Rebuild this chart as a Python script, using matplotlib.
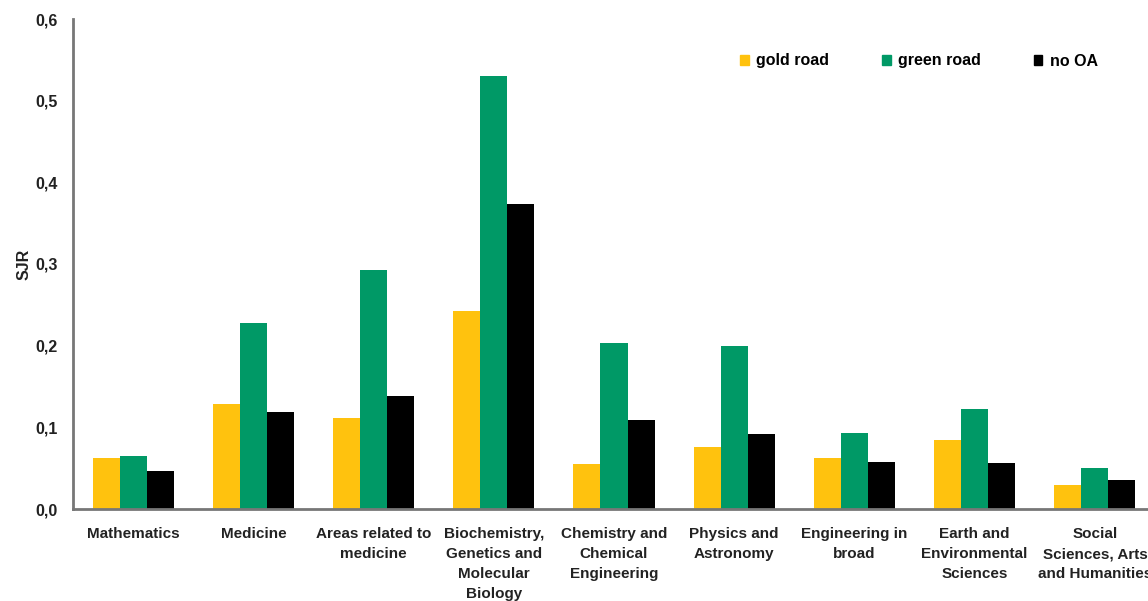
import matplotlib.pyplot as plt
import numpy as np
from matplotlib.patches import Patch

plt.rcParams['font.family'] = ['Liberation Sans', 'DejaVu Sans']

# datos
categorias = ["Mathematics", "Medicine", "Areas related to\nmedicine",
              "Biochemistry,\nGenetics and\nMolecular\nBiology",
              "Chemistry and\nChemical\nEngineering", "Physics and\nAstronomy",
              "Engineering in\nbroad", "Earth and\nEnvironmental\nSciences",
              "Social\nSciences, Arts\nand Humanities"]
gold_road = [0.062, 0.128, 0.112, 0.242, 0.055, 0.076, 0.063, 0.085, 0.030]
green_road = [0.065, 0.228, 0.293, 0.530, 0.203, 0.200, 0.093, 0.123, 0.050]
no_oa = [0.047, 0.119, 0.138, 0.373, 0.109, 0.092, 0.057, 0.056, 0.035]
yticks = [0.0, 0.1, 0.2, 0.3, 0.4, 0.5, 0.6]
ytick_labels = ["0,0", "0,1", "0,2", "0,3", "0,4", "0,5", "0,6"]

fig = plt.figure(figsize=(11.48, 6.01), dpi=100)
ax = fig.add_axes([73/1148, 92/601, (1155-73)/1148, 490/601])

x = np.arange(len(categorias))
w = 0.225
ax.bar(x - w, gold_road, w, color='#FFC20E', label='gold road')
ax.bar(x, green_road, w, color='#009966', label='green road')
ax.bar(x + w, no_oa, w, color='#000000', label='no OA')

ax.set_xlim(-0.5, 8.5)
ax.set_ylim(0, 0.6)
ax.set_yticks(yticks)
ax.set_yticklabels(ytick_labels, fontsize=11.5, fontweight='bold', color='#222222')
ax.set_xticks(x)
ax.set_xticklabels(categorias, fontsize=11, fontweight='bold', color='#222222',
                   linespacing=1.55, va='top')
ax.tick_params(axis='x', length=0, pad=13)
ax.tick_params(axis='y', length=0, pad=11)
ax.set_ylabel("SJR", fontsize=11.5, fontweight='bold', color='#222222', labelpad=3)

for s in ['top', 'right']:
    ax.spines[s].set_visible(False)
for s in ['left', 'bottom']:
    ax.spines[s].set_color('#777777')
    ax.spines[s].set_linewidth(2)

handles = [Patch(color='#FFC20E'), Patch(color='#009966'), Patch(color='#000000')]
fig.legend(handles, ['gold road', 'green road', 'no OA'], loc='center left',
           bbox_to_anchor=(726/1148, 1 - 61/601), ncol=3, frameon=False,
           handlelength=0.55, handleheight=0.55, handletextpad=0.45,
           columnspacing=3.3, prop={'weight': 'bold', 'size': 11.5})

fig.savefig('out.png', dpi=100)
